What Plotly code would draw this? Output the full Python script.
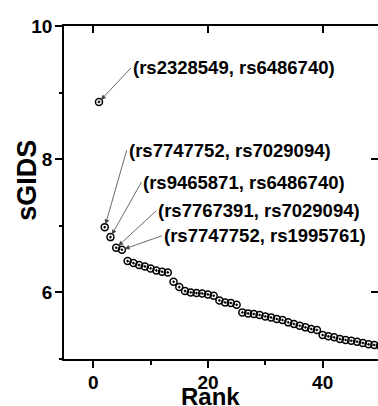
import plotly.graph_objects as go

# ---- data ----
ranks = list(range(1, 51))
sgids = [8.86, 6.98, 6.83, 6.67, 6.64, 6.47, 6.44, 6.41, 6.39, 6.36,
         6.33, 6.31, 6.30, 6.16, 6.08, 6.02, 6.00, 5.99, 5.985, 5.97,
         5.95, 5.88, 5.85, 5.84, 5.815, 5.70, 5.685, 5.675, 5.66, 5.64,
         5.625, 5.60, 5.585, 5.55, 5.525, 5.50, 5.475, 5.45, 5.435, 5.36,
         5.34, 5.325, 5.30, 5.285, 5.275, 5.26, 5.24, 5.22, 5.21, 5.20]

label_ranks = [1, 2, 3, 4, 5]
label_texts = ["(rs2328549, rs6486740)", "(rs7747752, rs7029094)",
               "(rs9465871, rs6486740)", "(rs7767391, rs7029094)",
               "(rs7747752, rs1995761)"]
label_offsets = [(32, -34), (22, -77), (31, -55), (40, -37), (40, -14)]

x_ticks = [0, 20, 40]
y_ticks = [6, 8, 10]

FONT = "Liberation Sans, Arial, sans-serif"

fig = go.Figure()
fig.add_trace(go.Scatter(
    x=ranks, y=sgids, mode="markers",
    marker=dict(symbol="circle-open-dot", size=7, color="black",
                line=dict(width=1.5, color="black")),
    showlegend=False, cliponaxis=True))
fig.add_trace(go.Scatter(x=[None], y=[None], xaxis="x2", yaxis="y2",
                         showlegend=False, hoverinfo="skip"))

for r, t, (ax, ay) in zip(label_ranks, label_texts, label_offsets):
    fig.add_annotation(x=r, y=sgids[r - 1], text=t, showarrow=True,
                       ax=ax, ay=ay, xanchor="left", yanchor="middle",
                       arrowhead=2, arrowsize=1.2, arrowwidth=0.8,
                       arrowcolor="#444", standoff=3,
                       font=dict(family=FONT, size=18.5, color="black", weight="bold"))

xr = [-5.1, 49.65]
yr = [5, 10]
axis_font = dict(family=FONT, size=19, color="black", weight="bold")

# axis titles placed as labels next to the axes
fig.add_annotation(text="Rank", xref="paper", yref="paper", x=0.465, y=0,
                   xanchor="center", yanchor="top", yshift=-22, showarrow=False,
                   font=dict(family=FONT, size=24, color="black", weight="bold"))
fig.add_annotation(text="sGIDS", xref="paper", yref="paper", x=0, y=0.535,
                   xanchor="center", yanchor="middle", xshift=-37, textangle=-90,
                   showarrow=False,
                   font=dict(family=FONT, size=27, color="black", weight="bold"))

fig.update_layout(
    width=378, height=406,
    margin=dict(l=64, r=0, t=26, b=47, autoexpand=False),
    paper_bgcolor="white", plot_bgcolor="white",
    xaxis=dict(range=xr, tickvals=x_ticks, ticks="outside", ticklen=7, tickwidth=1.5,
               tickcolor="black", showline=True, linewidth=1.5, linecolor="black",
               showgrid=False, zeroline=False, tickfont=axis_font, automargin=False,
               ticklabelstandoff=-2,
               minor=dict(tickvals=[10, 30], ticks="outside", ticklen=4, tickwidth=1.5,
                          tickcolor="black", showgrid=False)),
    yaxis=dict(range=yr, tickvals=y_ticks, ticks="outside", ticklen=7, tickwidth=1.5,
               tickcolor="black", showline=True, linewidth=1.5, linecolor="black",
               showgrid=False, zeroline=False, tickfont=axis_font, automargin=False,
               ticklabelstandoff=-1,
               minor=dict(tickvals=[5, 7, 9], ticks="outside", ticklen=3, tickwidth=1.5,
                          tickcolor="black", showgrid=False)),
    xaxis2=dict(range=xr, overlaying="x", side="top", tickvals=x_ticks, ticks="inside",
                ticklen=7, tickwidth=1.5, tickcolor="black", showline=True, linewidth=1.5,
                linecolor="black", showticklabels=False, showgrid=False, zeroline=False,
                automargin=False),
    yaxis2=dict(range=yr, overlaying="y", side="right", tickvals=y_ticks, ticks="inside",
                ticklen=7, tickwidth=1.5, tickcolor="black", showline=False,
                showticklabels=False, showgrid=False, zeroline=False, automargin=False),
)

fig.write_html("out.html", config={"displayModeBar": False},
               post_script="document.body.style.margin='0';document.body.style.overflow='hidden';")
